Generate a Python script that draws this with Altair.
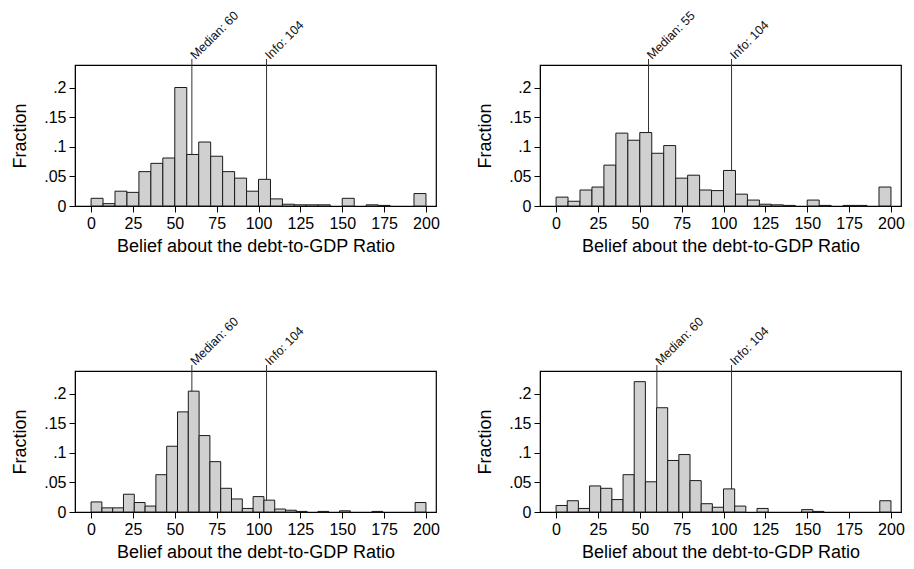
import pandas as pd
import altair as alt

# Histogram fractions, bins spread evenly over 0-200
bins_a = 28
frac_a = [0.013, 0.004, 0.025, 0.023, 0.058, 0.072, 0.081, 0.200, 0.087, 0.108,
          0.084, 0.058, 0.047, 0.025, 0.045, 0.012, 0.003, 0.002, 0.002, 0.002,
          0.0, 0.013, 0.0, 0.002, 0.001, 0.0, 0.0, 0.021]

bins_b = 28
frac_b = [0.015, 0.008, 0.027, 0.032, 0.069, 0.123, 0.111, 0.124, 0.089, 0.102,
          0.047, 0.052, 0.027, 0.026, 0.060, 0.020, 0.010, 0.003, 0.002, 0.001,
          0.0, 0.010, 0.001, 0.0, 0.001, 0.001, 0.0, 0.032]

bins_c = 31
frac_c = [0.017, 0.007, 0.007, 0.030, 0.016, 0.010, 0.063, 0.111, 0.169, 0.204,
          0.129, 0.085, 0.040, 0.022, 0.006, 0.026, 0.020, 0.005, 0.003, 0.001,
          0.0, 0.001, 0.0, 0.002, 0.0, 0.0, 0.001, 0.0, 0.0, 0.0, 0.016]

bins_d = 30
frac_d = [0.011, 0.019, 0.006, 0.044, 0.040, 0.021, 0.063, 0.220, 0.051, 0.176,
          0.087, 0.097, 0.053, 0.014, 0.008, 0.039, 0.010, 0.0, 0.006, 0.0,
          0.0, 0.0, 0.004, 0.001, 0.0, 0.0, 0.0, 0.0, 0.0, 0.019]

medians = [60.2, 55.2, 60.2, 60.2]
median_labels = ["Median: 60", "Median: 55", "Median: 60", "Median: 60"]
info_value = 104.8
info_label = "Info: 104"

x_ticks = [0, 25, 50, 75, 100, 125, 150, 175, 200]
y_ticks = [0, 0.05, 0.1, 0.15, 0.2]

FONT = "Liberation Sans"
W, H = 361, 141


def panel(n_bins, fracs, median, median_label):
    width = 200 / n_bins
    df = pd.DataFrame({
        "start": [i * width for i in range(n_bins)],
        "end": [(i + 1) * width for i in range(n_bins)],
        "frac": fracs,
    })
    df = df[df["frac"] > 0]  # empty bins draw nothing
    marks = pd.DataFrame({"x": [median, info_value],
                          "label": [median_label, info_label]})

    xs = alt.Scale(domain=[-9.6, 206], nice=False, zero=False)
    ys = alt.Scale(domain=[0, 0.238], nice=False)

    bars = alt.Chart(df).mark_rect(
        fill="#d0d0d0", stroke="#1a1a1a", strokeWidth=1
    ).encode(
        x=alt.X("start:Q", scale=xs, title="Belief about the debt-to-GDP Ratio",
                axis=alt.Axis(values=x_ticks, grid=False, tickSize=6,
                              labelPadding=3, titlePadding=6)),
        x2="end:Q",
        y=alt.Y("frac:Q", scale=ys, title="Fraction",
                axis=alt.Axis(values=y_ticks, grid=False, tickSize=6,
                              labelPadding=3, titlePadding=14,
                              labelExpr="datum.value == 0 ? '0' : replace(format(datum.value, '.2~f'), '0.', '.')")),
        y2=alt.datum(0),
    )

    rules = alt.Chart(marks).mark_rule(color="#333333", strokeWidth=1).encode(
        x=alt.X("x:Q", scale=xs),
        y=alt.value(-6),
        y2=alt.value(H),
    )

    labels = alt.Chart(marks).mark_text(
        angle=315, align="left", baseline="middle", font=FONT, fontSize=12.5,
        color="#111111", dx=1
    ).encode(
        x=alt.X("x:Q", scale=xs),
        y=alt.value(-7),
        text="label:N",
    )

    return alt.layer(rules, bars, labels).properties(width=W, height=H)


top_row = alt.hconcat(
    panel(bins_a, frac_a, medians[0], median_labels[0]),
    panel(bins_b, frac_b, medians[1], median_labels[1]),
    spacing=36,
)
bottom_row = alt.hconcat(
    panel(bins_c, frac_c, medians[2], median_labels[2]),
    panel(bins_d, frac_d, medians[3], median_labels[3]),
    spacing=36,
)

chart = alt.vconcat(top_row, bottom_row, spacing=58).properties(
    background="white",
    padding={"left": 3, "top": 0, "right": 0, "bottom": 0},
).configure_view(
    stroke="#000000", strokeWidth=1.2
).configure_axis(
    labelFont=FONT, titleFont=FONT, labelFontSize=16, titleFontSize=18,
    labelColor="#000000", titleColor="#000000", tickColor="#000000",
    domainColor="#000000", titleFontWeight="normal",
)

chart.save("out.html", embed_options={"renderer": "svg", "actions": False})
